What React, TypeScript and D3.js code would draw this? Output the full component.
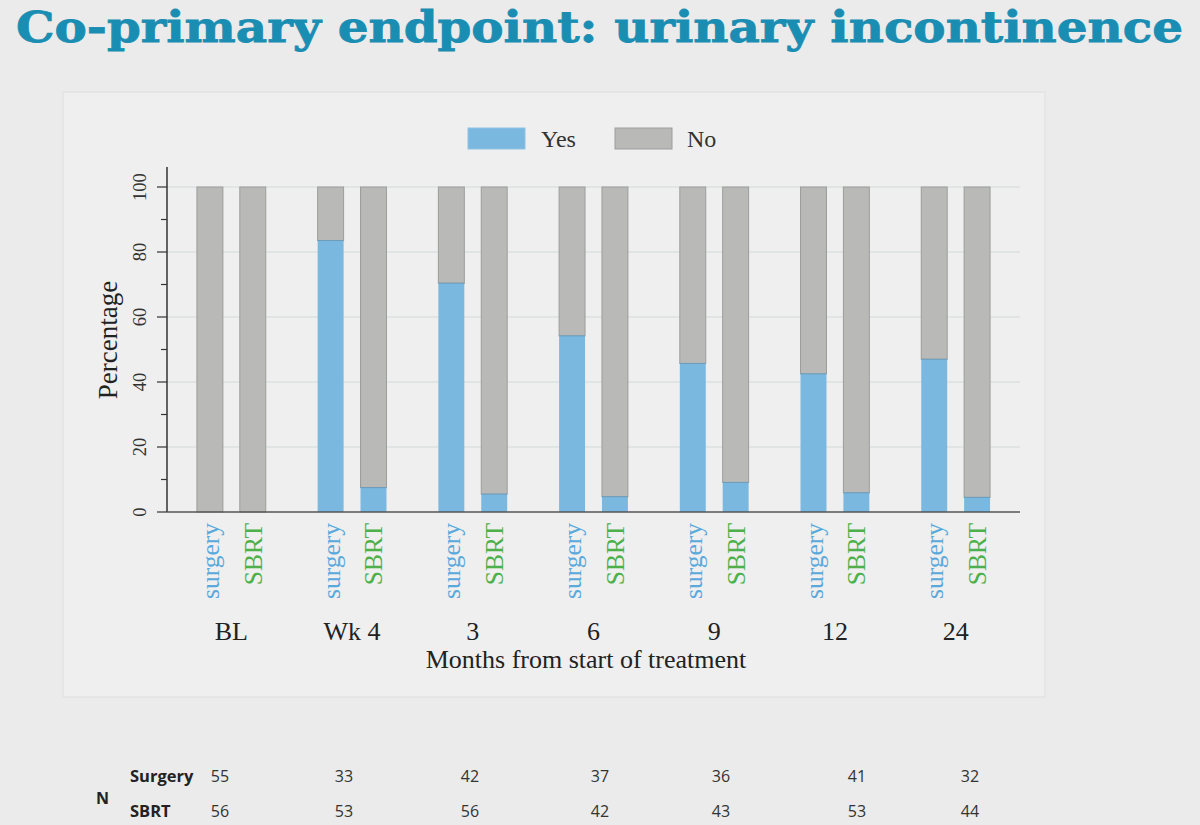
import React from "react";
import * as d3 from "d3";

const timepoints = ["BL", "Wk 4", "3", "6", "9", "12", "24"];
const arms = ["surgery", "SBRT"];
const surgeryYes = [0, 83.5, 70.4, 54.2, 45.7, 42.5, 47.0];
const sbrtYes = [0, 7.5, 5.5, 4.7, 9.1, 5.9, 4.5];
const yTicks = [0, 20, 40, 60, 80, 100];
const nSurgery = [55, 33, 42, 37, 36, 41, 32];
const nSbrt = [56, 53, 56, 42, 43, 53, 44];
const nXs = [220, 344, 470, 600, 721, 857, 970];

const BLUE = "#7ab8e0";
const GRAY = "#b9bab8";
const armColor: Record<string, string> = { surgery: "#5aa9dc", SBRT: "#4db04a" };

export default function App() {
  const left = 167, right = 1020, top = 187, bottom = 512;
  const x0 = d3.scaleBand<string>().domain(timepoints).range([left, right]).paddingInner(0.43).paddingOuter(0.248);
  const x1 = d3.scaleBand<string>().domain(arms).range([0, x0.bandwidth()]).paddingInner(0.395);
  const y = d3.scaleLinear().domain([0, 100]).range([bottom, top]);
  const minor = d3.range(10, 100, 20);
  const serif = "'Liberation Serif', 'Times New Roman', serif";
  const sans = "'Open Sans', sans-serif";

  const bars: { t: string; arm: string; yes: number }[] = [];
  timepoints.forEach((t, i) => {
    bars.push({ t, arm: "surgery", yes: surgeryYes[i] });
    bars.push({ t, arm: "SBRT", yes: sbrtYes[i] });
  });

  return (
    <svg width={1200} height={825} style={{ position: "absolute", left: 0, top: 0, background: "#eaebea" }}>
      <rect x={0} y={0} width={1200} height={825} fill="#eaebea" />
      <text x={16} y={42} fill="#1a8db2" stroke="#1a8db2" strokeWidth={0.8} fontFamily="'DejaVu Serif', Georgia, serif" fontWeight="bold" fontSize={43}
        textLength={1167} lengthAdjust="spacingAndGlyphs">Co-primary endpoint: urinary incontinence</text>
      <rect x={63} y={92} width={982} height={605} fill="#eeefee" stroke="#e2e3e2" strokeWidth={1.5} />

      {/* legend */}
      <rect x={468} y={128} width={57} height={21} fill={BLUE} stroke="#8fc3e4" />
      <text x={541} y={147} fontFamily={serif} fontSize={24} fill="#333">Yes</text>
      <rect x={615} y={128} width={57} height={21} fill={GRAY} stroke="#9c9d9b" />
      <text x={687} y={147} fontFamily={serif} fontSize={24} fill="#333">No</text>

      {/* gridlines */}
      {yTicks.filter(v => v > 0).map(v => (
        <line key={v} x1={left} x2={right} y1={y(v)} y2={y(v)} stroke="#dde1e0" strokeWidth={1.5} />
      ))}

      {/* bars */}
      {bars.map((b, i) => {
        const bx = (x0(b.t) as number) + (x1(b.arm) as number);
        const w = x1.bandwidth();
        return (
          <g key={i}>
            <rect x={bx} y={y(100)} width={w} height={y(b.yes) - y(100)} fill={GRAY} stroke="#9c9d9b" strokeWidth={1} />
            {b.yes > 0 && <rect x={bx} y={y(b.yes)} width={w} height={y(0) - y(b.yes)} fill={BLUE} />}
            {b.yes > 0 && <line x1={bx} x2={bx + w} y1={y(b.yes)} y2={y(b.yes)} stroke="#6a9cbc" strokeWidth={1} />}
            <text transform={`translate(${bx + w / 2 + 9},${bottom + 11}) rotate(-90)`} textAnchor="end"
              fontFamily={serif} fontSize={25.5} fill={armColor[b.arm]}>{b.arm}</text>
          </g>
        );
      })}

      {/* axes */}
      <line x1={left} x2={left} y1={167} y2={bottom} stroke="#333" strokeWidth={1.5} />
      <line x1={left} x2={right} y1={bottom} y2={bottom} stroke="#555" strokeWidth={1.5} />
      {yTicks.map(v => (
        <g key={v}>
          <line x1={left - 10} x2={left} y1={y(v)} y2={y(v)} stroke="#333" strokeWidth={1.2} />
          <text transform={`translate(${146},${y(v)}) rotate(-90)`} textAnchor="middle" fontFamily={serif} fontSize={18.5} fill="#333">{v}</text>
        </g>
      ))}
      {minor.map(v => (
        <line key={v} x1={left - 6} x2={left} y1={y(v)} y2={y(v)} stroke="#333" strokeWidth={1.2} />
      ))}
      <text transform={`translate(${117},${340}) rotate(-90)`} textAnchor="middle" fontFamily={serif} fontSize={27} fill="#222">Percentage</text>

      {timepoints.map(t => (
        <text key={t} x={(x0(t) as number) + x0.bandwidth() / 2} y={640} textAnchor="middle" fontFamily={serif} fontSize={26} fill="#222">{t}</text>
      ))}
      <text x={586} y={668} textAnchor="middle" fontFamily={serif} fontSize={26} fill="#222">Months from start of treatment</text>

      {/* N table */}
      <text x={96} y={804} fontFamily={sans} fontWeight="bold" fontSize={16} fill="#222">N</text>
      <text x={130} y={782} fontFamily={sans} fontWeight="bold" fontSize={16.5} fill="#222">Surgery</text>
      <text x={130} y={817} fontFamily={sans} fontWeight="bold" fontSize={16.5} fill="#222">SBRT</text>
      {nSurgery.map((n, i) => (
        <text key={"s" + i} x={nXs[i]} y={782} textAnchor="middle" fontFamily={sans} fontSize={16} fill="#333">{n}</text>
      ))}
      {nSbrt.map((n, i) => (
        <text key={"b" + i} x={nXs[i]} y={817} textAnchor="middle" fontFamily={sans} fontSize={16} fill="#333">{n}</text>
      ))}
    </svg>
  );
}
